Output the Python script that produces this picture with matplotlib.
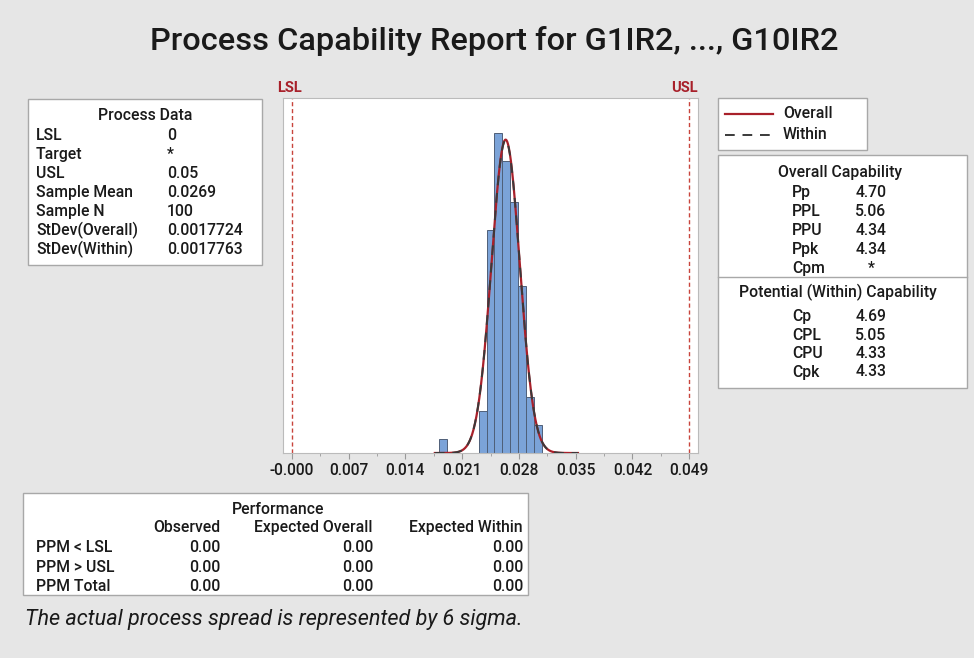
import matplotlib.pyplot as plt
import matplotlib.patches as mpatches
import numpy as np
from matplotlib.ticker import FixedLocator

plt.rcParams['font.family'] = ['Roboto', 'DejaVu Sans']

# --- data ---
lsl = 0.0
usl = 0.05
mean = 0.0269
sd_overall = 0.0017724
sd_within = 0.0017763
n_sample = 100

bin_left = [0.0185, 0.0195, 0.0205, 0.0215, 0.0225, 0.0235, 0.0245, 0.0255,
            0.0265, 0.0275, 0.0285, 0.0295, 0.0305]
bin_counts = [1, 0, 0, 0, 0, 3, 16, 23, 21, 18, 12, 4, 2]
bin_width = 0.001

tick_labels = ['-0.000', '0.007', '0.014', '0.021', '0.028', '0.035', '0.042', '0.049']

process_labels = ['LSL', 'Target', 'USL', 'Sample Mean', 'Sample N', 'StDev(Overall)', 'StDev(Within)']
process_values = ['0', '*', '0.05', '0.0269', '100', '0.0017724', '0.0017763']

overall_labels = ['Pp', 'PPL', 'PPU', 'Ppk', 'Cpm']
overall_values = ['4.70', '5.06', '4.34', '4.34', '*']
within_labels = ['Cp', 'CPL', 'CPU', 'Cpk']
within_values = ['4.69', '5.05', '4.33', '4.33']

perf_rows = ['PPM < LSL', 'PPM > USL', 'PPM Total']
perf_cols = ['Observed', 'Expected Overall', 'Expected Within']
perf_observed = ['0.00', '0.00', '0.00']
perf_exp_overall = ['0.00', '0.00', '0.00']
perf_exp_within = ['0.00', '0.00', '0.00']

W, H = 974, 658
bg = '#E6E6E6'
dark_red = '#A8202A'
text_col = '#1A1A1A'
fs = 11.3

fig = plt.figure(figsize=(W / 100, H / 100), dpi=100, facecolor=bg)


def fx(x):
    return x / W


def fy(y):
    return 1 - y / H


def txt(x, y, s, **kw):
    kw.setdefault('fontsize', fs)
    kw.setdefault('color', text_col)
    kw.setdefault('va', 'center_baseline')
    kw.setdefault('fontweight', 'medium')
    # center_baseline sits a touch low, nudge up
    fig.text(fx(x), fy(y - 2), s, **kw)


def box(x0, y0, x1, y1):
    r = mpatches.Rectangle((fx(x0), fy(y1)), fx(x1) - fx(x0), fy(y0) - fy(y1),
                           transform=fig.transFigure, facecolor='white',
                           edgecolor='#A8A8A8', lw=1.0)
    fig.patches.append(r)


# title
txt(494, 40, 'Process Capability Report for G1IR2, ..., G10IR2', fontsize=23.4, ha='center')

# --- histogram ---
ax = fig.add_axes([fx(283), fy(453), fx(698) - fx(283), fy(98) - fy(453)])
ax.bar(bin_left, bin_counts, width=bin_width, align='edge', color='#7BA3D8',
       edgecolor='#4F5F78', lw=0.7, zorder=2)

xs = np.linspace(0.018, 0.036, 400)
scale = n_sample * bin_width
ax.plot(xs, scale / (sd_overall * np.sqrt(2 * np.pi)) * np.exp(-0.5 * ((xs - mean) / sd_overall) ** 2),
        color=dark_red, lw=1.6, zorder=3)
ax.plot(xs, scale / (sd_within * np.sqrt(2 * np.pi)) * np.exp(-0.5 * ((xs - mean) / sd_within) ** 2),
        color='#3A3A3A', lw=1.4, ls=(0, (5, 4)), zorder=4)

ax.axvline(lsl, color='#C8443C', ls=(0, (3, 2)), lw=1.0, zorder=1)
ax.axvline(usl, color='#C8443C', ls=(0, (3, 2)), lw=1.0, zorder=1)

ax.set_xlim(-0.0011, 0.0511)
ax.set_ylim(0, 25.5)
major = [lsl + (usl - lsl) * k / 7 for k in range(8)]
ax.set_xticks(major)
ax.set_xticklabels(tick_labels, fontsize=11.2, color=text_col, fontweight='medium')
ax.xaxis.set_minor_locator(FixedLocator([m + (usl - lsl) / 14 for m in major[:-1]]))
ax.tick_params(axis='x', which='major', length=4, color='#999999', pad=3)
ax.tick_params(axis='x', which='minor', length=2, color='#999999')
ax.set_yticks([])
for s in ax.spines.values():
    s.set_color('#BBBBBB')

txt(290, 88, 'LSL', color=dark_red, ha='center', fontsize=10.5, fontweight='bold')
txt(684, 88, 'USL', color=dark_red, ha='center', fontsize=10.5, fontweight='bold')

# --- process data ---
box(28, 99, 262, 265)
txt(145, 116, 'Process Data', ha='center')
for i, (lab, val) in enumerate(zip(process_labels, process_values)):
    y = 136 + i * 19
    txt(36, y, lab)
    txt(167, y, val)

# --- legend ---
box(718, 98, 867, 150)
fig.lines.append(plt.Line2D([fx(725), fx(773)], [fy(114), fy(114)], transform=fig.transFigure,
                            color=dark_red, lw=1.6))
fig.lines.append(plt.Line2D([fx(725), fx(773)], [fy(135), fy(135)], transform=fig.transFigure,
                            color='#3A3A3A', lw=1.4, ls=(0, (5, 4))))
txt(783, 114, 'Overall')
txt(783, 135, 'Within')

# --- capability ---
box(718, 155, 967, 388)
fig.lines.append(plt.Line2D([fx(718), fx(967)], [fy(277), fy(277)], transform=fig.transFigure,
                            color='#A8A8A8', lw=1.0))
txt(840, 173, 'Overall Capability', ha='center')
for i, (lab, val) in enumerate(zip(overall_labels, overall_values)):
    y = 193 + i * 19
    txt(792, y, lab)
    txt(871, y, val, ha='center')
txt(838, 293, 'Potential (Within) Capability', ha='center')
for i, (lab, val) in enumerate(zip(within_labels, within_values)):
    y = 317 + i * 18.5
    txt(792, y, lab)
    txt(871, y, val, ha='center')

# --- performance ---
box(23, 493, 528, 595)
txt(278, 510, 'Performance', ha='center')
col_right = [220, 373, 523]
for xr, c in zip(col_right, perf_cols):
    txt(xr, 528, c, ha='right')
for i, lab in enumerate(perf_rows):
    y = 548 + i * 19.5
    txt(36, y, lab)
    for xr, vals in zip(col_right, [perf_observed, perf_exp_overall, perf_exp_within]):
        txt(xr, y, vals[i], ha='right')

# footnote
txt(25, 619, 'The actual process spread is represented by 6 sigma.', style='italic',
    fontweight='normal', fontsize=15.6)

fig.savefig('out.png', dpi=100, facecolor=bg)
